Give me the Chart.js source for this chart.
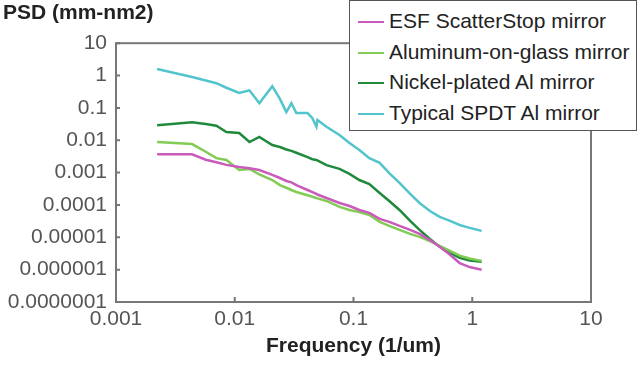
<!DOCTYPE html>
<html>
<head>
<meta charset="utf-8">
<script src="https://cdn.jsdelivr.net/npm/chart.js@4/dist/chart.umd.min.js"></script>
<style>
  body { margin: 0; background: #fff; }
  .wrap { position: relative; width: 640px; height: 366px; }
  #legend {
    position: absolute; left: 349px; top: 0px; width: 288px; height: 131px;
    box-sizing: border-box; border: 1.5px solid #555; background: #fff;
    font-family: "Liberation Sans", Arial, sans-serif; font-size: 21px; color: #222;
  }
  #legend .row { position: absolute; left: 8px; height: 24px; line-height: 24px; white-space: nowrap; }
  #legend .swatch { display: inline-block; width: 26px; height: 2px; vertical-align: middle; margin-right: 5px; }
</style>
</head>
<body>
<div class="wrap">
  <canvas id="psd-chart" width="640" height="366"></canvas>
  <div id="legend"></div>
</div>
<script>
// spatial frequency (1/um)
const freq = [0.00222, 0.00437, 0.0057, 0.0070, 0.0085, 0.0109, 0.0133, 0.0161, 0.0207, 0.0240,
  0.0272, 0.0300, 0.0330, 0.0410, 0.0451, 0.0487, 0.0497, 0.0592, 0.0762, 0.0925,
  0.112, 0.136, 0.166, 0.20, 0.244, 0.30, 0.36, 0.44, 0.532, 0.65, 0.784, 0.95, 1.2]

const esfPsd = [0.0037, 0.0037, 0.0025, 0.0021, 0.00173, 0.0015, 0.00137, 0.0012, 0.00085, 0.00068,
  0.00055, 0.00050, 0.00041, 0.00029, 0.00025, 0.00022, 0.00021, 0.000164, 0.000115, 9.3e-5,
  7.0e-5, 5.7e-5, 3.7e-5, 3.0e-5, 2.25e-5, 1.7e-5, 1.27e-5, 8.2e-6, 5.1e-6, 2.9e-6, 1.6e-6, 1.2e-6, 9.9e-7]

const aluminumPsd = [0.0088, 0.0076, 0.0044, 0.0028, 0.00245, 0.0012, 0.0013, 0.00088, 0.00059, 0.00041,
  0.00034, 0.00029, 0.00025, 0.00020, 0.00018, 0.000164, 0.00016, 0.000133, 8.7e-5, 7.0e-5,
  6.0e-5, 4.9e-5, 3.0e-5, 2.25e-5, 1.7e-5, 1.27e-5, 1.03e-5, 7.6e-6, 5.4e-6, 3.8e-6, 2.7e-6, 2.2e-6, 1.87e-6]

const nickelPsd = [0.029, 0.036, 0.032, 0.028, 0.018, 0.0167, 0.0088, 0.0126, 0.0071, 0.0062,
  0.0052, 0.0047, 0.0041, 0.0030, 0.0026, 0.00245, 0.0024, 0.0017, 0.0013, 0.00091,
  0.00059, 0.00044, 0.000234, 0.000133, 7.0e-5, 3.2e-5, 1.7e-5, 8.9e-6, 5.1e-6, 3.3e-6, 2.3e-6, 1.93e-6, 1.74e-6]

const spdtPsd = [1.6, 0.90, 0.70, 0.58, 0.42, 0.29, 0.35, 0.14, 0.47, 0.19,
  0.074, 0.14, 0.069, 0.069, 0.048, 0.026, 0.042, 0.026, 0.0145, 0.0082,
  0.005, 0.0028, 0.0020, 0.00097, 0.00048, 0.00022, 0.000115, 6.5e-5, 4.3e-5, 3.2e-5, 2.4e-5, 1.95e-5, 1.58e-5]

const seriesNames = ['ESF ScatterStop mirror', 'Aluminum-on-glass mirror', 'Nickel-plated Al mirror', 'Typical SPDT Al mirror']
const seriesColors = ['#c95bbb', '#82cc55', '#1f8a3c', '#52c4cc']
const xTicks = [0.001, 0.01, 0.1, 1, 10]
const yTicks = [1e-7, 1e-6, 1e-5, 1e-4, 1e-3, 1e-2, 1e-1, 1, 10]

const FONT = '"Liberation Sans", Arial, sans-serif'
const frameColor = '#777'

const toPoints = vals => freq.map((f, i) => ({ x: f, y: vals[i] }))
const allSeries = [esfPsd, aluminumPsd, nickelPsd, spdtPsd]

const fmt = v => {
    // decimal text like 0.0000001, no exponent
    if (v >= 1) return String(Math.round(v))
    const digits = Math.round(-Math.log10(v))
    return v.toFixed(digits)
}

// frame box plus short inward tick marks
const framePlugin = {
    id: 'frame',
    afterDatasetsDraw(chart) {
        const { ctx, chartArea: a, scales } = chart
        ctx.save()
        ctx.strokeStyle = frameColor
        ctx.lineWidth = 2
        ctx.strokeRect(a.left, a.top, a.right - a.left, a.bottom - a.top)
        ctx.beginPath()
        yTicks.forEach(v => {
            const y = scales.y.getPixelForValue(v)
            ctx.moveTo(a.left, y); ctx.lineTo(a.left + 4, y)
        })
        xTicks.forEach(v => {
            const x = scales.x.getPixelForValue(v)
            ctx.moveTo(x, a.bottom); ctx.lineTo(x, a.bottom - 5)
        })
        ctx.stroke()
        ctx.restore()
    }
}

const ctx = document.getElementById('psd-chart')
const chart = new Chart(ctx, {
    type: 'line',
    data: {
        datasets: allSeries.map((vals, i) => ({
            label: seriesNames[i],
            data: toPoints(vals),
            borderColor: seriesColors[i],
            backgroundColor: seriesColors[i],
            borderWidth: 2.5,
            pointRadius: 0,
            tension: 0,
            fill: false,
        }))
    },
    options: {
        responsive: false,
        animation: false,
        devicePixelRatio: 1,
        layout: { padding: { left: 3, right: 49, top: 0, bottom: 0 } },
        plugins: {
            legend: { display: false },
            tooltip: { enabled: false },
            title: {
                display: true,
                text: 'PSD (mm-nm2)',
                align: 'start',
                color: '#222',
                font: { family: FONT, size: 21, weight: 'bold' },
                padding: { top: 1, bottom: 17 },
            },
        },
        scales: {
            x: {
                type: 'logarithmic',
                min: 0.001,
                max: 10,
                afterBuildTicks: s => { s.ticks = xTicks.map(v => ({ value: v })) },
                afterFit: s => { s.height = 64 },
                grid: { display: false, drawTicks: false, tickLength: 0 },
                border: { display: false },
                ticks: {
                    autoSkip: false, maxRotation: 0, padding: 5,
                    color: '#555',
                    font: { family: FONT, size: 21 },
                    callback: v => fmt(v),
                },
                title: {
                    display: true,
                    text: 'Frequency (1/um)',
                    color: '#222',
                    font: { family: FONT, size: 21, weight: 'bold' },
                    padding: { top: 0, bottom: 7 },
                },
            },
            y: {
                type: 'logarithmic',
                min: 1e-7,
                max: 10,
                afterBuildTicks: s => { s.ticks = yTicks.map(v => ({ value: v })) },
                afterFit: s => { s.width = 113 },
                grid: { display: false, drawTicks: false, tickLength: 0 },
                border: { display: false },
                ticks: {
                    autoSkip: false, padding: 9,
                    color: '#555',
                    font: { family: FONT, size: 21 },
                    callback: v => fmt(v),
                },
            },
        },
    },
    plugins: [framePlugin],
})

// legend box overlapping the top right of the plot
const legendEl = document.getElementById('legend')
const rowTops = [8, 39, 69, 100]
chart.data.datasets.forEach((ds, i) => {
    const row = document.createElement('div')
    row.className = 'row'
    row.style.top = rowTops[i] + 'px'
    row.innerHTML = `<span class="swatch" style="background:${ds.borderColor}"></span>${ds.label}`
    legendEl.appendChild(row)
})
</script>
</body>
</html>
